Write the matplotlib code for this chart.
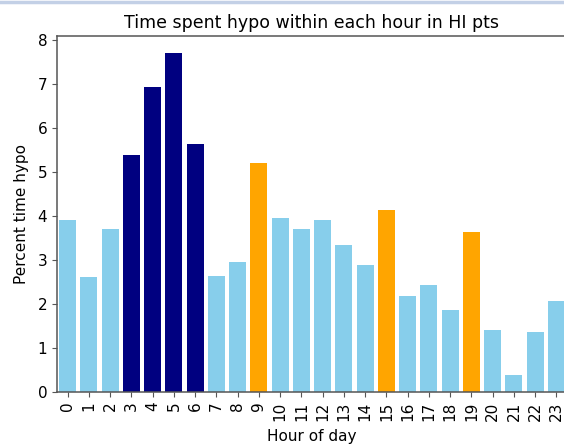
import matplotlib.pyplot as plt
from matplotlib.lines import Line2D

hours = [str(h) for h in range(24)]
percent_hypo = [3.91, 2.62, 3.70, 5.40, 6.93, 7.71, 5.65, 2.65, 2.96, 5.20,
                3.95, 3.71, 3.92, 3.35, 2.88, 4.15, 2.19, 2.44, 1.87, 3.65,
                1.40, 0.39, 1.37, 2.06]
# colour group per hour: night peak, isolated spikes, rest
night_hours = [3, 4, 5, 6]
spike_hours = [9, 15, 19]

colors = []
for h in range(24):
    if h in night_hours:
        colors.append('navy')
    elif h in spike_hours:
        colors.append('orange')
    else:
        colors.append('skyblue')

fig = plt.figure(figsize=(5.64, 4.45), dpi=100)
ax = fig.add_axes([57 / 564, 1 - 392 / 445, 510 / 564, 356 / 445])

ax.bar(range(len(hours)), percent_hypo, width=0.8, color=colors)
ax.set_xlim(-0.5, 23.5)
ax.set_ylim(0, 8.1)
ax.set_xticks(range(len(hours)))
ax.set_xticklabels(hours, rotation=90)
ax.tick_params(labelsize=11, color='#555555')

ax.set_title("Time spent hypo within each hour in HI pts", fontsize=12.5)
ax.set_xlabel("Hour of day", fontsize=11, labelpad=6)
ax.set_ylabel("Percent time hypo", fontsize=11, labelpad=6)

for s in ax.spines.values():
    s.set_color('#555555')
    s.set_linewidth(1.1)

# thin frame line at the top of the screenshot
fig.add_artist(Line2D([0, 1], [0.996, 0.996], transform=fig.transFigure,
                      color='#c3d0e6', linewidth=2.5))

fig.savefig("out.png", dpi=100)
